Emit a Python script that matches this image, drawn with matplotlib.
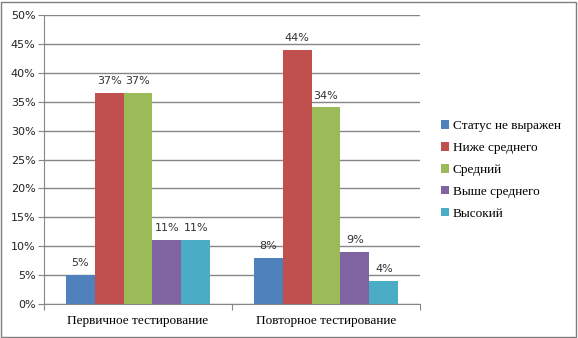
import numpy as np
import matplotlib.pyplot as plt
from matplotlib.patches import Rectangle
from matplotlib.font_manager import FontProperties

plt.rcParams['font.family'] = ['Liberation Serif', 'DejaVu Serif']

categories = ['Первичное тестирование', 'Повторное тестирование']
series_names = ['Статус не выражен', 'Ниже среднего', 'Средний', 'Выше среднего', 'Высокий']
values = [
    [5, 8],
    [36.5, 44],
    [36.5, 34],
    [11, 9],
    [11, 4],
]
labels = [
    ['5%', '8%'],
    ['37%', '44%'],
    ['37%', '34%'],
    ['11%', '9%'],
    ['11%', '4%'],
]
colors = ['#4F81BD', '#C0504D', '#9BBB59', '#8064A2', '#4BACC6']

fig = plt.figure(figsize=(5.78, 3.38), dpi=100)
ax = fig.add_axes([44/578, 34/338, 376/578, 289/338])

grid_c = '#868686'
n = len(series_names)
bar_w = 1 / (n + 1.5)
x = np.arange(len(categories))
for i in range(n):
    pos = x + (i - (n - 1) / 2) * bar_w
    bars = ax.bar(pos, values[i], width=bar_w, color=colors[i], label=series_names[i], zorder=3)
    for b, lab in zip(bars, labels[i]):
        ax.text(b.get_x() + b.get_width() / 2, b.get_height() + 1.2, lab,
                ha='center', va='bottom', fontsize=8, color='#333333',
                family='DejaVu Sans', zorder=4)

ax.set_xlim(-0.5, 1.5)
ax.set_ylim(0, 50)
ax.set_yticks(range(0, 51, 5))
ax.set_yticklabels([f'{v}%' for v in range(0, 51, 5)], fontsize=8, family='DejaVu Sans',
                   color='#222222')
ax.yaxis.grid(True, color=grid_c, linewidth=1, zorder=0)
ax.set_axisbelow(True)

ax.set_xticks([-0.5, 0.5, 1.5])
ax.set_xticklabels([])
ax.set_xticks(x, minor=True)
ax.set_xticklabels(categories, minor=True, fontsize=9.5, family='Liberation Serif')
ax.tick_params(axis='x', which='minor', length=0, pad=8)
ax.tick_params(axis='x', which='major', length=4, color=grid_c)
ax.tick_params(axis='y', length=4, color=grid_c, pad=2)

for s in ['top', 'right']:
    ax.spines[s].set_visible(False)
ax.spines['left'].set_color(grid_c)
ax.spines['bottom'].set_color(grid_c)

leg = fig.legend(loc='center left', bbox_to_anchor=(429/578, 168/338), frameon=False,
                 prop=FontProperties(family='Liberation Serif', size=9.5),
                 handlelength=0.6, handleheight=0.6, handletextpad=0.3, labelspacing=0.75)

fig.patches.append(Rectangle((1/578, 1/338), 575/578, 335/338, transform=fig.transFigure,
                             fill=False, edgecolor='#7f7f7f', linewidth=1))

fig.savefig('out.png', dpi=100)
